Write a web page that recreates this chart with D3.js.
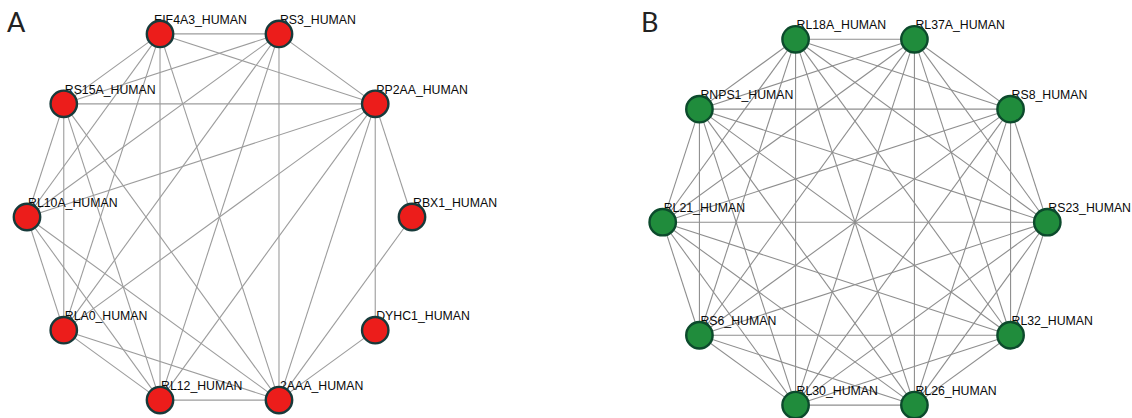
<!DOCTYPE html>
<html>
<head>
<meta charset="utf-8">
<script src="https://cdn.jsdelivr.net/npm/d3@7/dist/d3.min.js"></script>
<style>
  html, body { margin: 0; padding: 0; background: #ffffff; }
  svg { display: block; }
</style>
</head>
<body>
<svg id="chart" width="1132" height="418"></svg>
<script>
// Panel A: protein nodes, listed clockwise starting from the top-left position
const panelANodes = [
  "EIF4A3_HUMAN", "RS3_HUMAN", "PP2AA_HUMAN", "RBX1_HUMAN", "DYHC1_HUMAN",
  "2AAA_HUMAN", "RL12_HUMAN", "RLA0_HUMAN", "RL10A_HUMAN", "RS15A_HUMAN"
];
// Panel A: interactions
const panelAEdges = [
  ["EIF4A3_HUMAN", "RS3_HUMAN"], ["EIF4A3_HUMAN", "PP2AA_HUMAN"], ["EIF4A3_HUMAN", "2AAA_HUMAN"],
  ["EIF4A3_HUMAN", "RL12_HUMAN"], ["EIF4A3_HUMAN", "RLA0_HUMAN"], ["EIF4A3_HUMAN", "RL10A_HUMAN"],
  ["EIF4A3_HUMAN", "RS15A_HUMAN"],
  ["RS3_HUMAN", "PP2AA_HUMAN"], ["RS3_HUMAN", "2AAA_HUMAN"], ["RS3_HUMAN", "RL12_HUMAN"],
  ["RS3_HUMAN", "RLA0_HUMAN"], ["RS3_HUMAN", "RL10A_HUMAN"], ["RS3_HUMAN", "RS15A_HUMAN"],
  ["PP2AA_HUMAN", "RBX1_HUMAN"], ["PP2AA_HUMAN", "DYHC1_HUMAN"], ["PP2AA_HUMAN", "2AAA_HUMAN"],
  ["PP2AA_HUMAN", "RL12_HUMAN"], ["PP2AA_HUMAN", "RLA0_HUMAN"], ["PP2AA_HUMAN", "RL10A_HUMAN"],
  ["PP2AA_HUMAN", "RS15A_HUMAN"],
  ["RBX1_HUMAN", "2AAA_HUMAN"], ["DYHC1_HUMAN", "2AAA_HUMAN"],
  ["2AAA_HUMAN", "RL12_HUMAN"], ["2AAA_HUMAN", "RLA0_HUMAN"], ["2AAA_HUMAN", "RL10A_HUMAN"],
  ["2AAA_HUMAN", "RS15A_HUMAN"],
  ["RL12_HUMAN", "RLA0_HUMAN"], ["RL12_HUMAN", "RL10A_HUMAN"], ["RL12_HUMAN", "RS15A_HUMAN"],
  ["RLA0_HUMAN", "RL10A_HUMAN"], ["RLA0_HUMAN", "RS15A_HUMAN"],
  ["RL10A_HUMAN", "RS15A_HUMAN"]
];

// Panel B: protein nodes, listed clockwise starting from the top-left position
const panelBNodes = [
  "RL18A_HUMAN", "RL37A_HUMAN", "RS8_HUMAN", "RS23_HUMAN", "RL32_HUMAN",
  "RL26_HUMAN", "RL30_HUMAN", "RS6_HUMAN", "RL21_HUMAN", "RNPS1_HUMAN"
];
// Panel B: interactions
const panelBEdges = [
  ["RL18A_HUMAN", "RL37A_HUMAN"], ["RL18A_HUMAN", "RS8_HUMAN"], ["RL18A_HUMAN", "RS23_HUMAN"],
  ["RL18A_HUMAN", "RL32_HUMAN"], ["RL18A_HUMAN", "RL26_HUMAN"], ["RL18A_HUMAN", "RL30_HUMAN"],
  ["RL18A_HUMAN", "RS6_HUMAN"], ["RL18A_HUMAN", "RL21_HUMAN"], ["RL18A_HUMAN", "RNPS1_HUMAN"],
  ["RL37A_HUMAN", "RS8_HUMAN"], ["RL37A_HUMAN", "RS23_HUMAN"], ["RL37A_HUMAN", "RL32_HUMAN"],
  ["RL37A_HUMAN", "RL26_HUMAN"], ["RL37A_HUMAN", "RL30_HUMAN"], ["RL37A_HUMAN", "RS6_HUMAN"],
  ["RL37A_HUMAN", "RL21_HUMAN"], ["RL37A_HUMAN", "RNPS1_HUMAN"],
  ["RS8_HUMAN", "RS23_HUMAN"], ["RS8_HUMAN", "RL32_HUMAN"], ["RS8_HUMAN", "RL26_HUMAN"],
  ["RS8_HUMAN", "RL30_HUMAN"], ["RS8_HUMAN", "RS6_HUMAN"], ["RS8_HUMAN", "RL21_HUMAN"],
  ["RS8_HUMAN", "RNPS1_HUMAN"],
  ["RS23_HUMAN", "RL32_HUMAN"], ["RS23_HUMAN", "RL26_HUMAN"], ["RS23_HUMAN", "RL30_HUMAN"],
  ["RS23_HUMAN", "RS6_HUMAN"], ["RS23_HUMAN", "RL21_HUMAN"], ["RS23_HUMAN", "RNPS1_HUMAN"],
  ["RL32_HUMAN", "RL26_HUMAN"], ["RL32_HUMAN", "RL30_HUMAN"], ["RL32_HUMAN", "RS6_HUMAN"],
  ["RL32_HUMAN", "RL21_HUMAN"], ["RL32_HUMAN", "RNPS1_HUMAN"],
  ["RL26_HUMAN", "RL30_HUMAN"], ["RL26_HUMAN", "RS6_HUMAN"], ["RL26_HUMAN", "RL21_HUMAN"],
  ["RL26_HUMAN", "RNPS1_HUMAN"],
  ["RL30_HUMAN", "RS6_HUMAN"], ["RL30_HUMAN", "RL21_HUMAN"], ["RL30_HUMAN", "RNPS1_HUMAN"],
  ["RS6_HUMAN", "RL21_HUMAN"], ["RS6_HUMAN", "RNPS1_HUMAN"],
  ["RL21_HUMAN", "RNPS1_HUMAN"]
];

const panelLetters = ["A", "B"];

const svg = d3.select("#chart");

// Draws one circular-layout network panel
function drawNetwork(opts) {
  const { nodes, edges, cx, cy, radius, fill, stroke, edgeColor, letter, letterX, labelShift } = opts;
  const g = svg.append("g");

  // angle of each node around the ring, measured clockwise from 12 o'clock
  const angle = d3.scaleLinear()
    .domain([0, nodes.length])
    .range([-Math.PI / 10, 2 * Math.PI - Math.PI / 10]);

  const pos = new Map(nodes.map((name, i) => {
    const [x, y] = d3.pointRadial(angle(i), radius);
    return [name, { name, x: cx + x, y: cy + y }];
  }));

  // edges
  g.append("g")
    .selectAll("line")
    .data(edges)
    .join("line")
    .attr("x1", d => pos.get(d[0]).x)
    .attr("y1", d => pos.get(d[0]).y)
    .attr("x2", d => pos.get(d[1]).x)
    .attr("y2", d => pos.get(d[1]).y)
    .attr("stroke", edgeColor)
    .attr("stroke-width", 1.1);

  const pts = Array.from(pos.values());

  // labels sit just above-right of each node centre
  g.append("g")
    .selectAll("text")
    .data(pts)
    .join("text")
    .attr("x", d => d.x + 1 + (labelShift[d.name] || 0))
    .attr("y", d => d.y - 10)
    .attr("font-family", "'Liberation Sans', Arial, sans-serif")
    .attr("font-size", 12.3)
    .attr("fill", "#0a0a0a")
    .text(d => d.name);

  // nodes
  g.append("g")
    .selectAll("circle")
    .data(pts)
    .join("circle")
    .attr("cx", d => d.x)
    .attr("cy", d => d.y)
    .attr("r", 13.2)
    .attr("fill", fill)
    .attr("stroke", stroke)
    .attr("stroke-width", 2.4);

  // panel letter
  svg.append("text")
    .attr("x", letterX)
    .attr("y", 32)
    .attr("font-family", "Lato, 'Open Sans', sans-serif")
    .attr("font-size", 27)
    .attr("fill", "#222")
    .text(letter);
}

drawNetwork({
  nodes: panelANodes, edges: panelAEdges,
  cx: 219.5, cy: 217, radius: 192.5,
  fill: "#ec1d1b", stroke: "#173a3a", edgeColor: "#9c9c9c",
  letter: panelLetters[0], letterX: 7,
  labelShift: { "EIF4A3_HUMAN": -7 }
});

drawNetwork({
  nodes: panelBNodes, edges: panelBEdges,
  cx: 855, cy: 222.2, radius: 192.3,
  fill: "#208c3c", stroke: "#0c4a2c", edgeColor: "#8e8e8e",
  letter: panelLetters[1], letterX: 641,
  labelShift: {}
});
</script>
</body>
</html>
